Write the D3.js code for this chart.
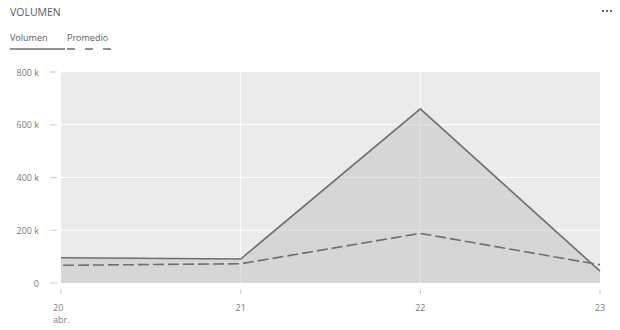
<!DOCTYPE html>
<html>
<head>
<meta charset="utf-8">
<script src="https://cdn.jsdelivr.net/npm/d3@7"></script>
<style>
  body { margin: 0; background: #fff; }
  svg { display: block; font-family: "Open Sans", "Noto Sans", sans-serif; }
</style>
</head>
<body>
<script>
// Datos
var dias = [20, 21, 22, 23];
var volumen = [96000, 91000, 660000, 45000];
var promedio = [67000, 73000, 188000, 69000];
var yTicks = [0, 200000, 400000, 600000, 800000];

var width = 620, height = 330;
var margin = {top: 72, right: 20, bottom: 47, left: 61};

var svg = d3.select("body").append("svg")
  .attr("width", width)
  .attr("height", height);

var x = d3.scaleLinear().domain([20, 23]).range([margin.left, width - margin.right]);
var y = d3.scaleLinear().domain([0, 800000]).range([height - margin.bottom, margin.top]);

// Título
svg.append("text")
  .attr("x", 10).attr("y", 16)
  .attr("font-size", "10.5px")
  .attr("fill", "#5a5a5a")
  .text("VOLUMEN");

// Puntos del menú
svg.selectAll(".dot")
  .data([0, 1, 2])
  .enter().append("rect")
  .attr("x", function(d) { return 602 + d * 4; })
  .attr("y", 10)
  .attr("width", 2).attr("height", 2)
  .attr("fill", "#666");

// Leyenda
svg.append("text").attr("x", 10).attr("y", 41).attr("font-size", "9px").attr("fill", "#5a5a5a").text("Volumen");
svg.append("line").attr("x1", 10).attr("x2", 65).attr("y1", 49).attr("y2", 49)
  .attr("stroke", "#6e6e6e").attr("stroke-width", 1.5);
svg.append("text").attr("x", 67).attr("y", 41).attr("font-size", "9px").attr("fill", "#5a5a5a").text("Promedio");
svg.append("line").attr("x1", 67).attr("x2", 117).attr("y1", 49).attr("y2", 49)
  .attr("stroke", "#6e6e6e").attr("stroke-width", 1.5).attr("stroke-dasharray", "8,10");

// Fondo del área de trazado
svg.append("rect")
  .attr("x", x(20)).attr("y", y(800000))
  .attr("width", x(23) - x(20)).attr("height", y(0) - y(800000))
  .attr("fill", "#ebebeb");

// Líneas de cuadrícula
svg.selectAll(".hgrid")
  .data(yTicks.filter(function(d) { return d > 0 && d < 800000; }))
  .enter().append("line")
  .attr("x1", x(20)).attr("x2", x(23))
  .attr("y1", function(d) { return y(d); }).attr("y2", function(d) { return y(d); })
  .attr("stroke", "#fff").attr("stroke-width", 1);

svg.selectAll(".vgrid")
  .data([21, 22])
  .enter().append("line")
  .attr("x1", function(d) { return x(d); }).attr("x2", function(d) { return x(d); })
  .attr("y1", y(800000)).attr("y2", y(0))
  .attr("stroke", "#fff").attr("stroke-width", 1);

// Área del volumen
var area = d3.area()
  .x(function(d, i) { return x(dias[i]); })
  .y0(y(0))
  .y1(function(d) { return y(d); });

svg.append("path")
  .datum(volumen)
  .attr("d", area)
  .attr("fill", "rgb(182,182,182)")
  .attr("fill-opacity", 0.4);

var line = d3.line()
  .x(function(d, i) { return x(dias[i]); })
  .y(function(d) { return y(d); });

svg.append("path")
  .datum(volumen)
  .attr("d", line)
  .attr("fill", "none")
  .attr("stroke", "#6e6e6e")
  .attr("stroke-width", 1.6);

svg.append("path")
  .datum(promedio)
  .attr("d", line)
  .attr("fill", "none")
  .attr("stroke", "#6e6e6e")
  .attr("stroke-width", 1.6)
  .attr("stroke-dasharray", "11,4")
  .attr("stroke-dashoffset", -2);

// Eje Y
svg.selectAll(".ytick")
  .data(yTicks)
  .enter().append("line")
  .attr("x1", 50).attr("x2", 57)
  .attr("y1", function(d) { return y(d); }).attr("y2", function(d) { return y(d); })
  .attr("stroke", "#ccc");

svg.selectAll(".ylabel")
  .data(yTicks)
  .enter().append("text")
  .attr("x", 39)
  .attr("y", function(d) { return y(d) + 3.5; })
  .attr("text-anchor", "end")
  .attr("font-size", "9px")
  .attr("fill", "#7a7a7a")
  .text(function(d) { return d === 0 ? "0" : (d / 1000) + " k"; });

// Eje X
svg.selectAll(".xtick")
  .data(dias)
  .enter().append("line")
  .attr("x1", function(d) { return x(d); }).attr("x2", function(d) { return x(d); })
  .attr("y1", 289).attr("y2", 294)
  .attr("stroke", "#ccc");

svg.selectAll(".xlabel")
  .data(dias)
  .enter().append("text")
  .attr("x", function(d, i) { return i === 0 ? x(d) - 8 : x(d); })
  .attr("y", 310.5)
  .attr("text-anchor", function(d, i) { return i === 0 ? "start" : "middle"; })
  .attr("font-size", "9px")
  .attr("fill", "#7a7a7a")
  .text(function(d) { return d; });

svg.append("text")
  .attr("x", x(20) - 8).attr("y", 322.5)
  .attr("font-size", "9px")
  .attr("fill", "#7a7a7a")
  .text("abr.");
</script>
</body>
</html>
